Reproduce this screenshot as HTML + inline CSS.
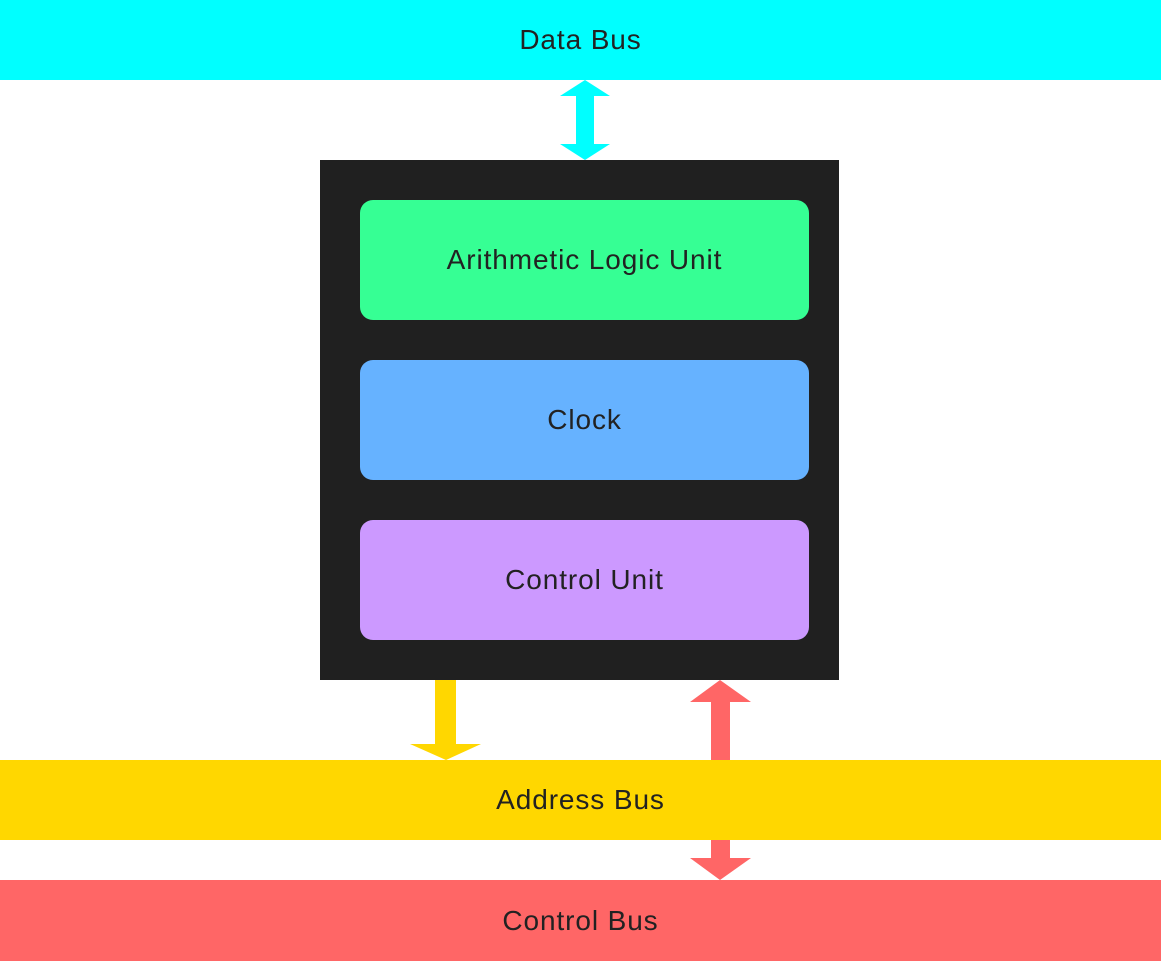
<!DOCTYPE html>
<html><head><style>
body{margin:0;width:1162px;height:962px;background:#fff;position:relative;font-family:"Liberation Sans",sans-serif;overflow:hidden}
.b{position:absolute;display:flex;align-items:center;justify-content:center;font-size:28px;letter-spacing:0.9px;color:#222}
</style></head><body>
<div class="b" style="left:0;top:0;width:1161px;height:80px;background:#00ffff">Data Bus</div>
<div class="b" style="left:0;top:760px;width:1161px;height:80px;background:#ffd700">Address Bus</div>
<div class="b" style="left:0;top:880px;width:1161px;height:81px;background:#ff6666">Control Bus</div>
<div style="position:absolute;left:320px;top:160px;width:519px;height:520px;background:#202020"></div>
<div class="b" style="left:360px;top:200px;width:449px;height:120px;border-radius:13px;background:#36ff94">Arithmetic Logic Unit</div>
<div class="b" style="left:360px;top:360px;width:449px;height:120px;border-radius:13px;background:#66b2ff">Clock</div>
<div class="b" style="left:360px;top:520px;width:449px;height:120px;border-radius:13px;background:#cc99ff">Control Unit</div>
<svg width="1162" height="962" style="position:absolute;left:0;top:0">
<polygon fill="#00ffff" points="585,80 610,96 594,96 594,144 610,144 585,160 560,144 576,144 576,96 560,96"/>
<polygon fill="#ffd700" points="435,680 456,680 456,744 481,744 446,760 410,744 435,744"/>
<polygon fill="#ff6666" points="720,680 751,702 730,702 730,760 711,760 711,702 690,702"/>
<polygon fill="#ff6666" points="711,840 730,840 730,858 751,858 720,880 690,858 711,858"/>
</svg>
</body></html>
